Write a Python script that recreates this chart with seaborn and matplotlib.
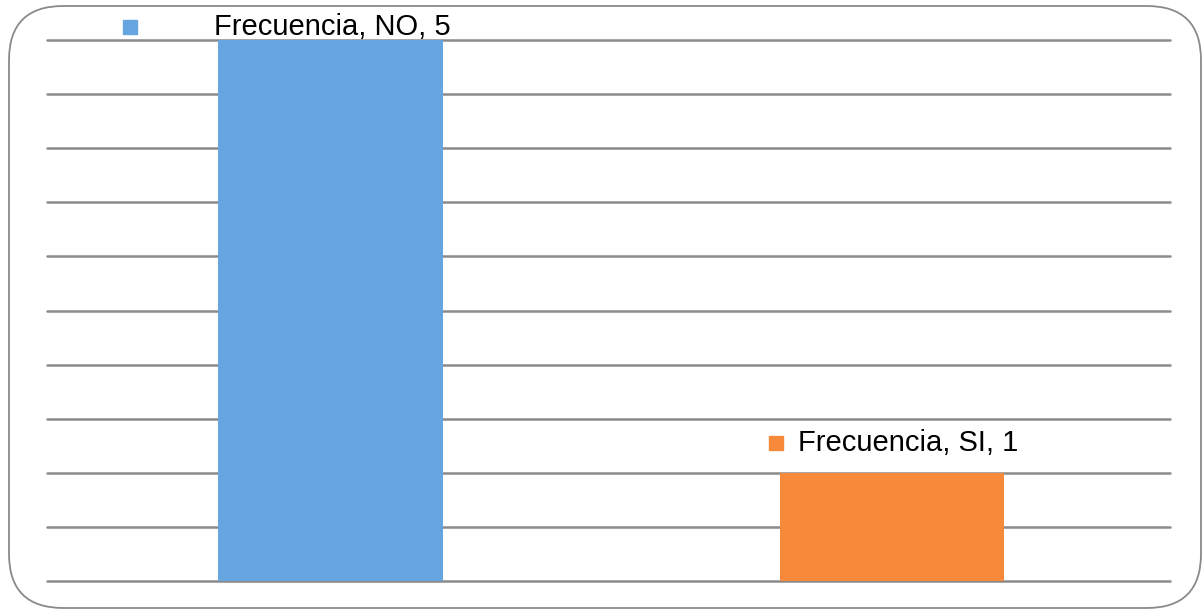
import numpy as np
import pandas as pd
import seaborn as sns
import matplotlib.pyplot as plt
from matplotlib.patches import FancyBboxPatch
from matplotlib.transforms import offset_copy

# data
categorias = ['NO', 'SI']
frecuencia = [5, 1]
colores = ['#67A5E0', '#F68A3A']

df = pd.DataFrame({'respuesta': categorias, 'frecuencia': frecuencia})

sns.set_style('white')
plt.rcParams['font.family'] = ['Liberation Sans', 'DejaVu Sans']

fig = plt.figure(figsize=(12.04, 6.09), dpi=100)
ax = fig.add_axes([47 / 1204, 28 / 609, 1123 / 1204, 541 / 609])

sns.barplot(
	data=df,
	x='respuesta',
	y='frecuencia',
	hue='respuesta',
	palette=colores,
	saturation=1,
	width=0.4,
	linewidth=0,
	legend=False,
	ax=ax,
	zorder=3,
)

ax.set_xlim(-0.505, 1.495)
ax.set_ylim(0, 5)
ax.set_yticks(np.arange(0, 5.01, 0.5))
ax.yaxis.grid(True, color='#8a8a8a', linewidth=1.8)
for gl in ax.get_ygridlines():
	gl.set_clip_on(False)
ax.set_axisbelow(True)
for s in ax.spines.values():
	s.set_visible(False)
ax.tick_params(left=False, bottom=False, labelleft=False, labelbottom=False)
ax.set(xlabel='', ylabel='')

# data labels (offsets in pixels from bar top centre)
offsets = [(-201, 13, -117), (-116, 30, -94)]
for i, (cat, val) in enumerate(zip(categorias, frecuencia)):
	mdx, dy, tdx = offsets[i]
	tr = offset_copy(ax.transData, fig=fig, x=mdx, y=dy, units='dots')
	ax.plot([i], [val], marker='s', markersize=9.5, color=colores[i],
		transform=tr, clip_on=False, zorder=5)
	ax.annotate(f'Frecuencia, {cat}, {val}', xy=(i, val), xycoords='data',
		xytext=(tdx, dy), textcoords='offset pixels',
		ha='left', va='center', fontsize=21, color='black',
		annotation_clip=False, zorder=5)

# rounded chart border
border = FancyBboxPatch((9 / 1204, 1 / 609), 1192 / 1204, 602 / 609,
	boxstyle='round,pad=0,rounding_size=0.045', transform=fig.transFigure,
	facecolor='none', edgecolor='#8a8a8a', linewidth=1.3,
	mutation_aspect=1204 / 609)
fig.patches.append(border)

fig.savefig('out.png', dpi=100)
